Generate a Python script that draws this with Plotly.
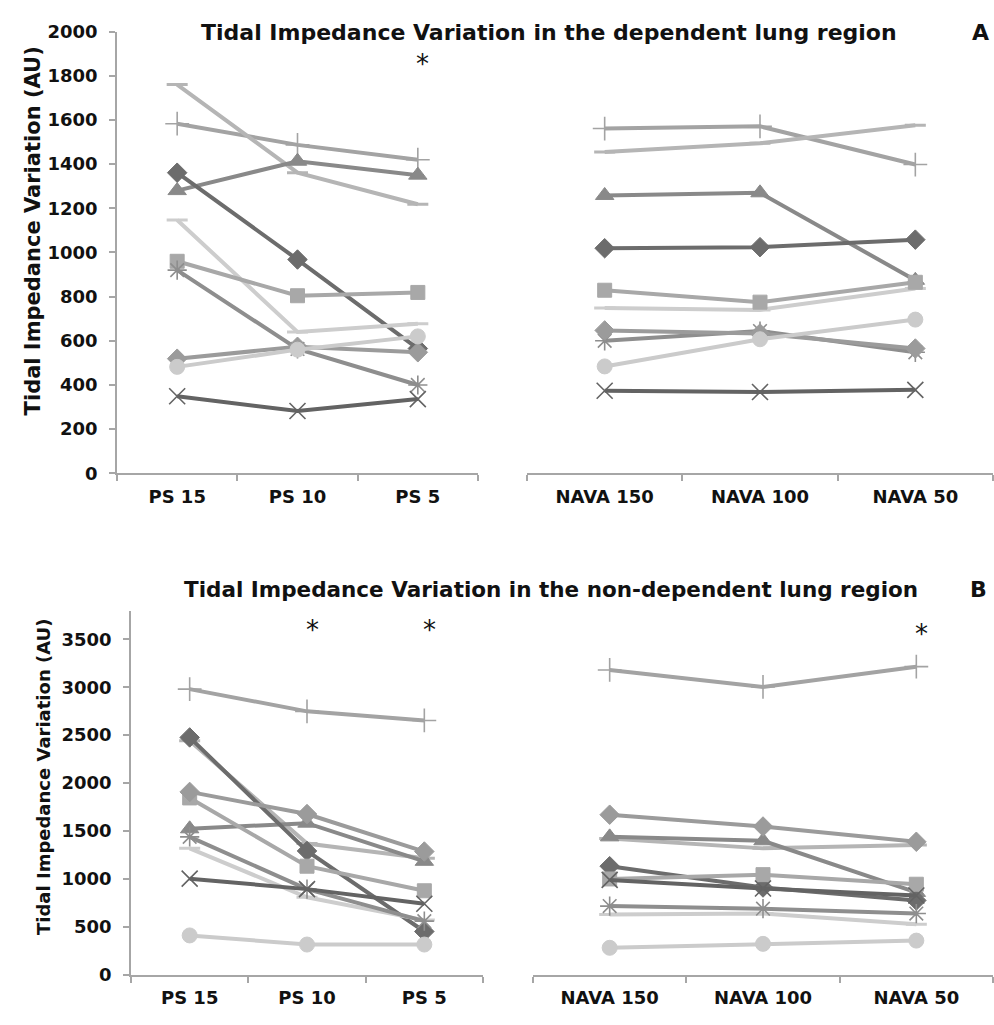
import plotly.graph_objects as go

# Ventilation settings (categories)
ps_levels = ["PS 15", "PS 10", "PS 5"]
nava_levels = ["NAVA 150", "NAVA 100", "NAVA 50"]

# Tidal impedance variation, dependent lung region (AU), one list per patient
dep_ps = {
    "p1": [1583, 1487, 1420],
    "p2": [1760, 1361, 1218],
    "p3": [1280, 1413, 1350],
    "p4": [1361, 968, 565],
    "p5": [1147, 640, 677],
    "p6": [960, 804, 819],
    "p7": [920, 563, 400],
    "p8": [519, 573, 548],
    "p9": [482, 560, 620],
    "p10": [349, 282, 336],
}
dep_nava = {
    "p1": [1561, 1571, 1398],
    "p2": [1455, 1494, 1576],
    "p3": [1258, 1270, 874],
    "p4": [1019, 1024, 1058],
    "p5": [748, 740, 837],
    "p6": [829, 775, 865],
    "p7": [600, 644, 548],
    "p8": [647, 633, 565],
    "p9": [484, 607, 696],
    "p10": [374, 368, 378],
}

# Tidal impedance variation, non-dependent lung region (AU)
nondep_ps = {
    "p1": [2980, 2748, 2653],
    "p2": [2442, 1370, 1217],
    "p3": [1523, 1582, 1184],
    "p4": [2476, 1292, 452],
    "p5": [1319, 809, 571],
    "p6": [1845, 1133, 877],
    "p7": [1439, 894, 560],
    "p8": [1908, 1677, 1286],
    "p9": [411, 316, 316],
    "p10": [1003, 894, 741],
}
nondep_nava = {
    "p1": [3180, 3003, 3214],
    "p2": [1421, 1319, 1353],
    "p3": [1439, 1398, 860],
    "p4": [1133, 911, 776],
    "p5": [629, 639, 527],
    "p6": [1000, 1045, 945],
    "p7": [717, 690, 639],
    "p8": [1670, 1547, 1388],
    "p9": [282, 323, 357],
    "p10": [990, 901, 827],
}

# Grey-scale line/marker style per patient
styles = {
    "p1": dict(color="#a3a3a3", symbol="cross-thin-open", size=17, mlw=1.6),
    "p2": dict(color="#b5b5b5", symbol="line-ew-open", size=15, mlw=3),
    "p3": dict(color="#898989", symbol="triangle-up", size=16, mlw=1),
    "p4": dict(color="#6c6c6c", symbol="diamond", size=15, mlw=1),
    "p5": dict(color="#cdcdcd", symbol="line-ew-open", size=15, mlw=3),
    "p6": dict(color="#a8a8a8", symbol="square", size=14, mlw=1),
    "p7": dict(color="#8e8e8e", symbol="asterisk-open", size=16, mlw=1.6),
    "p8": dict(color="#9b9b9b", symbol="diamond", size=15, mlw=1),
    "p9": dict(color="#cbcbcb", symbol="circle", size=15, mlw=1),
    "p10": dict(color="#636363", symbol="x-thin-open", size=16, mlw=1.6),
}

W, H = 994, 1025
FONT = "DejaVu Sans"
AXIS_GREY = "#a6a6a6"


def px(x):
    return x / W


def py(y):
    return 1 - y / H


fig = go.Figure()


def add_panel(data, cats, xa, ya):
    for pid, vals in data.items():
        s = styles[pid]
        fig.add_trace(go.Scatter(
            x=cats, y=vals, mode="lines+markers",
            xaxis=xa, yaxis=ya, showlegend=False,
            line=dict(color=s["color"], width=4),
            marker=dict(symbol=s["symbol"], size=s["size"], color=s["color"],
                        line=dict(color=s["color"], width=s["mlw"])),
        ))


add_panel(dep_ps, ps_levels, "x", "y")
add_panel(dep_nava, nava_levels, "x2", "y2")
add_panel(nondep_ps, ps_levels, "x3", "y3")
add_panel(nondep_nava, nava_levels, "x4", "y4")

xcommon = dict(
    type="category", range=[-0.5, 2.5], showline=True, linecolor=AXIS_GREY,
    linewidth=1.5, ticks="outside", tickson="boundaries", ticklen=6,
    tickcolor=AXIS_GREY, tickwidth=1.5, showgrid=False, zeroline=False,
    tickfont=dict(family=FONT, size=18, color="#111111", weight="bold"),
    ticklabelstandoff=6, fixedrange=True,
)
ycommon = dict(
    showline=True, linecolor=AXIS_GREY, linewidth=1.5, ticks="outside",
    ticklen=6, tickcolor=AXIS_GREY, tickwidth=1.5, showgrid=False,
    zeroline=False, tickfont=dict(family=FONT, size=18, color="#111111", weight="bold"),
    ticklabelstandoff=8, fixedrange=True,
)

top_dom = [py(472), py(21)]
bot_dom = [py(984), py(613)]

fig.update_layout(
    width=W, height=H, margin=dict(l=0, r=0, t=0, b=0),
    paper_bgcolor="white", plot_bgcolor="white",
    xaxis=dict(xcommon, domain=[px(117), px(478)], anchor="y"),
    xaxis2=dict(xcommon, domain=[px(527), px(993)], anchor="y2"),
    xaxis3=dict(xcommon, domain=[px(131), px(483)], anchor="y3"),
    xaxis4=dict(xcommon, domain=[px(533), px(993)], anchor="y4"),
    yaxis=dict(ycommon, domain=top_dom, range=[0, 2000], dtick=200, anchor="x"),
    yaxis2=dict(domain=top_dom, range=[0, 2000], visible=False, anchor="x2"),
    yaxis3=dict(ycommon, domain=bot_dom, range=[0, 3790],
                tickvals=[0, 500, 1000, 1500, 2000, 2500, 3000, 3500], anchor="x3"),
    yaxis4=dict(domain=bot_dom, range=[0, 3790], visible=False, anchor="x4"),
)

title_font = dict(family=FONT, size=22, color="#111111", weight="bold")
ytitle_font = dict(family=FONT, size=21, color="#111111", weight="bold")
star_font = dict(family=FONT, size=26, color="#111111")

annotations = [
    dict(text="Tidal Impedance Variation in the dependent lung region",
         x=px(549), y=py(22), font=title_font),
    dict(text="A", x=px(980), y=py(22), font=title_font),
    dict(text="Tidal Impedance Variation in the non-dependent lung region",
         x=px(551), y=py(591), font=dict(title_font, size=21.5)),
    dict(text="B", x=px(978), y=py(591), font=title_font),
    dict(text="Tidal Impedance Variation (AU)", x=px(33), y=py(225),
         textangle=-90, font=ytitle_font),
    dict(text="Tidal Impedance Variation (AU)", x=px(44), y=py(782),
         textangle=-90, font=dict(ytitle_font, size=18)),
]
for a in annotations:
    a.update(xref="paper", yref="paper", xanchor="center", yanchor="middle",
             showarrow=False)

# significance markers
stars = [("x", "PS 5", py(54)), ("x3", "PS 10", py(632)),
         ("x3", "PS 5", py(632)), ("x4", "NAVA 50", py(636))]
for xr, cat, yy in stars:
    annotations.append(dict(text="*", x=cat, xref=xr, y=yy, yref="paper",
                            xanchor="center", yanchor="middle", showarrow=False,
                            font=star_font, xshift=5))

fig.update_layout(annotations=annotations)

fig.write_html("out.html")
